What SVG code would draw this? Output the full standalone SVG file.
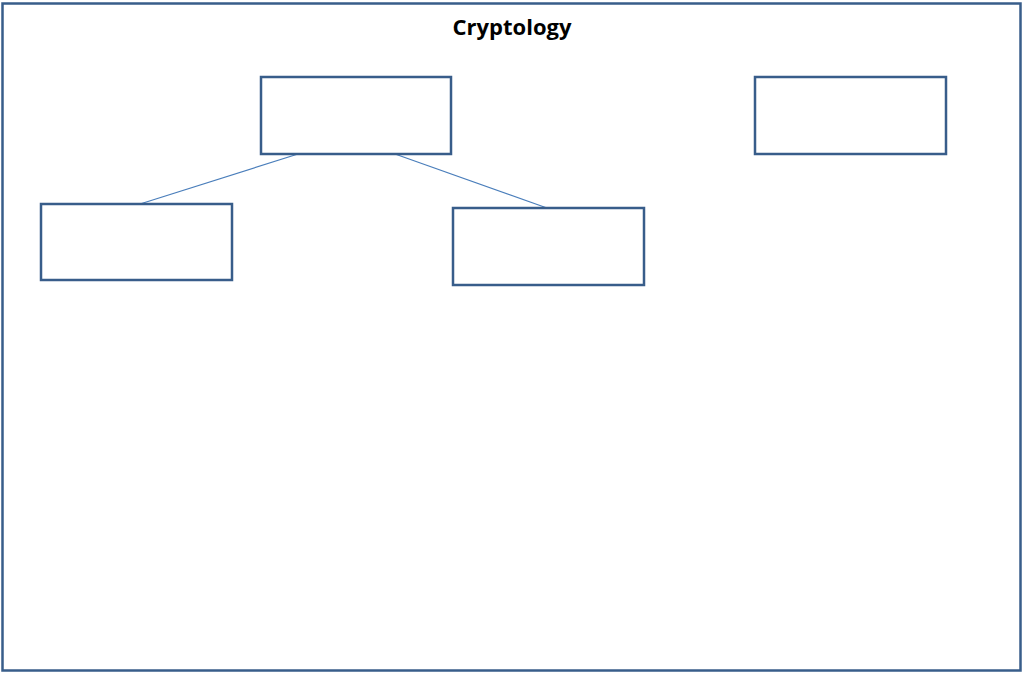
<svg xmlns="http://www.w3.org/2000/svg" width="1024" height="673" viewBox="0 0 1024 673">
<style>
.box{fill:#fff;stroke:#385d8a;stroke-width:2.5}
.conn{stroke:#4a7ebb;stroke-width:1.2;fill:none}
.title{font-family:"Open Sans","Liberation Sans",sans-serif;font-weight:bold;font-size:22px;fill:#000}
</style>
<rect width="1024" height="673" fill="#fff"/>
<g id="frame"><rect x="2.5" y="3.5" width="1018" height="667" class="box"/>
<text x="512" y="35" text-anchor="middle" class="title">Cryptology</text></g>
<g id="connectors">
<line x1="298" y1="154" x2="140" y2="204" class="conn"/>
<line x1="395" y1="154" x2="547" y2="208" class="conn"/>
</g>
<g id="node-top"><rect x="261" y="77" width="190" height="77" class="box"/></g>
<g id="node-right"><rect x="755" y="77" width="191" height="77" class="box"/></g>
<g id="node-left"><rect x="41" y="204" width="191" height="76" class="box"/></g>
<g id="node-mid"><rect x="453" y="208" width="191" height="77" class="box"/></g>
</svg>
